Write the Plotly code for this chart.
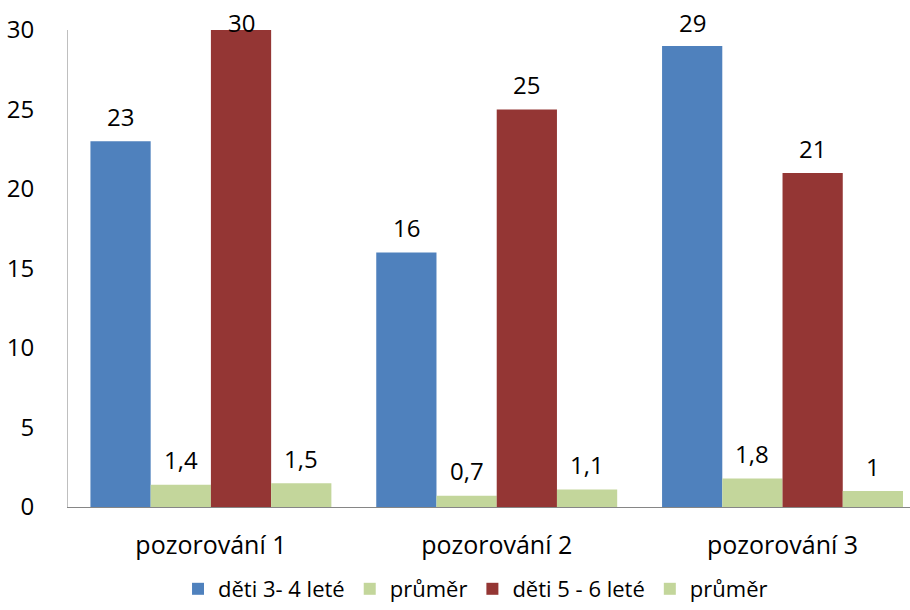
import plotly.graph_objects as go

# Categories and series values
categories = ["pozorování 1", "pozorování 2", "pozorování 3"]
series_names = ["děti 3- 4 leté", "průměr", "děti 5 - 6 leté", "průměr"]
values_3_4 = [23, 16, 29]
avg_3_4 = [1.4, 0.7, 1.8]
values_5_6 = [30, 25, 21]
avg_5_6 = [1.5, 1.1, 1.0]
y_ticks = [0, 5, 10, 15, 20, 25, 30]

series_values = [values_3_4, avg_3_4, values_5_6, avg_5_6]
colors = ["#4F81BD", "#C3D69B", "#943634", "#C3D69B"]

FONT = "Open Sans, Noto Sans, sans-serif"
Y_MAX = 30
W, H = 910, 610
M_L, M_R, M_T, M_B = 68, 0, 30, 103
PLOT_H = H - M_T - M_B
PX_PER_UNIT = PLOT_H / Y_MAX

fig = go.Figure()
for name, vals, col in zip(series_names, series_values, colors):
    fig.add_trace(go.Bar(
        x=categories, y=vals, name=name,
        marker=dict(color=col, line=dict(width=0)),
        hoverinfo="x+y+name",
    ))


def fmt(v):
    return f"{v:g}".replace(".", ",")


# value labels above each bar, pushed down where they would leave the plot area
n = len(series_names)
bar_w = (1 - 0.157) / n
annotations = []
for si, vals in enumerate(series_values):
    offset = (si - (n - 1) / 2) * bar_w
    for ci, v in enumerate(vals):
        bar_top_px = M_T + (Y_MAX - v) * PX_PER_UNIT
        shift = min(25, bar_top_px - 22)
        annotations.append(dict(
            x=ci + offset, y=v, xref="x", yref="y", yshift=shift,
            text=fmt(v), showarrow=False, yanchor="middle", xanchor="center",
            font=dict(family=FONT, size=24, color="#000000"),
        ))

fig.update_layout(
    width=W, height=H,
    margin=dict(l=M_L, r=M_R, t=M_T, b=M_B, autoexpand=False),
    paper_bgcolor="white", plot_bgcolor="white",
    barmode="group", bargap=0.157, bargroupgap=0,
    font=dict(family=FONT, size=24, color="#000000"),
    showlegend=True,
    legend=dict(
        orientation="h", x=0.484, xanchor="center",
        y=-(H - M_T - PLOT_H) / PLOT_H, yanchor="bottom",
        font=dict(family=FONT, size=22, color="#000000"),
        itemwidth=30, traceorder="normal", borderwidth=0,
    ),
    annotations=annotations,
)
fig.update_xaxes(
    type="category", range=[-0.5, 2.446],
    showline=True, linecolor="#868686", linewidth=1,
    ticks="", showgrid=False, ticklabelstandoff=16,
    tickfont=dict(family=FONT, size=25, color="#000000"),
)
fig.update_yaxes(
    range=[0, Y_MAX], tickvals=y_ticks,
    showline=True, linecolor="#BFBFBF", linewidth=1,
    ticks="", showgrid=False, zeroline=False, ticklabelstandoff=28,
    tickfont=dict(family=FONT, size=24, color="#000000"),
)

fig.write_html("out.html")
